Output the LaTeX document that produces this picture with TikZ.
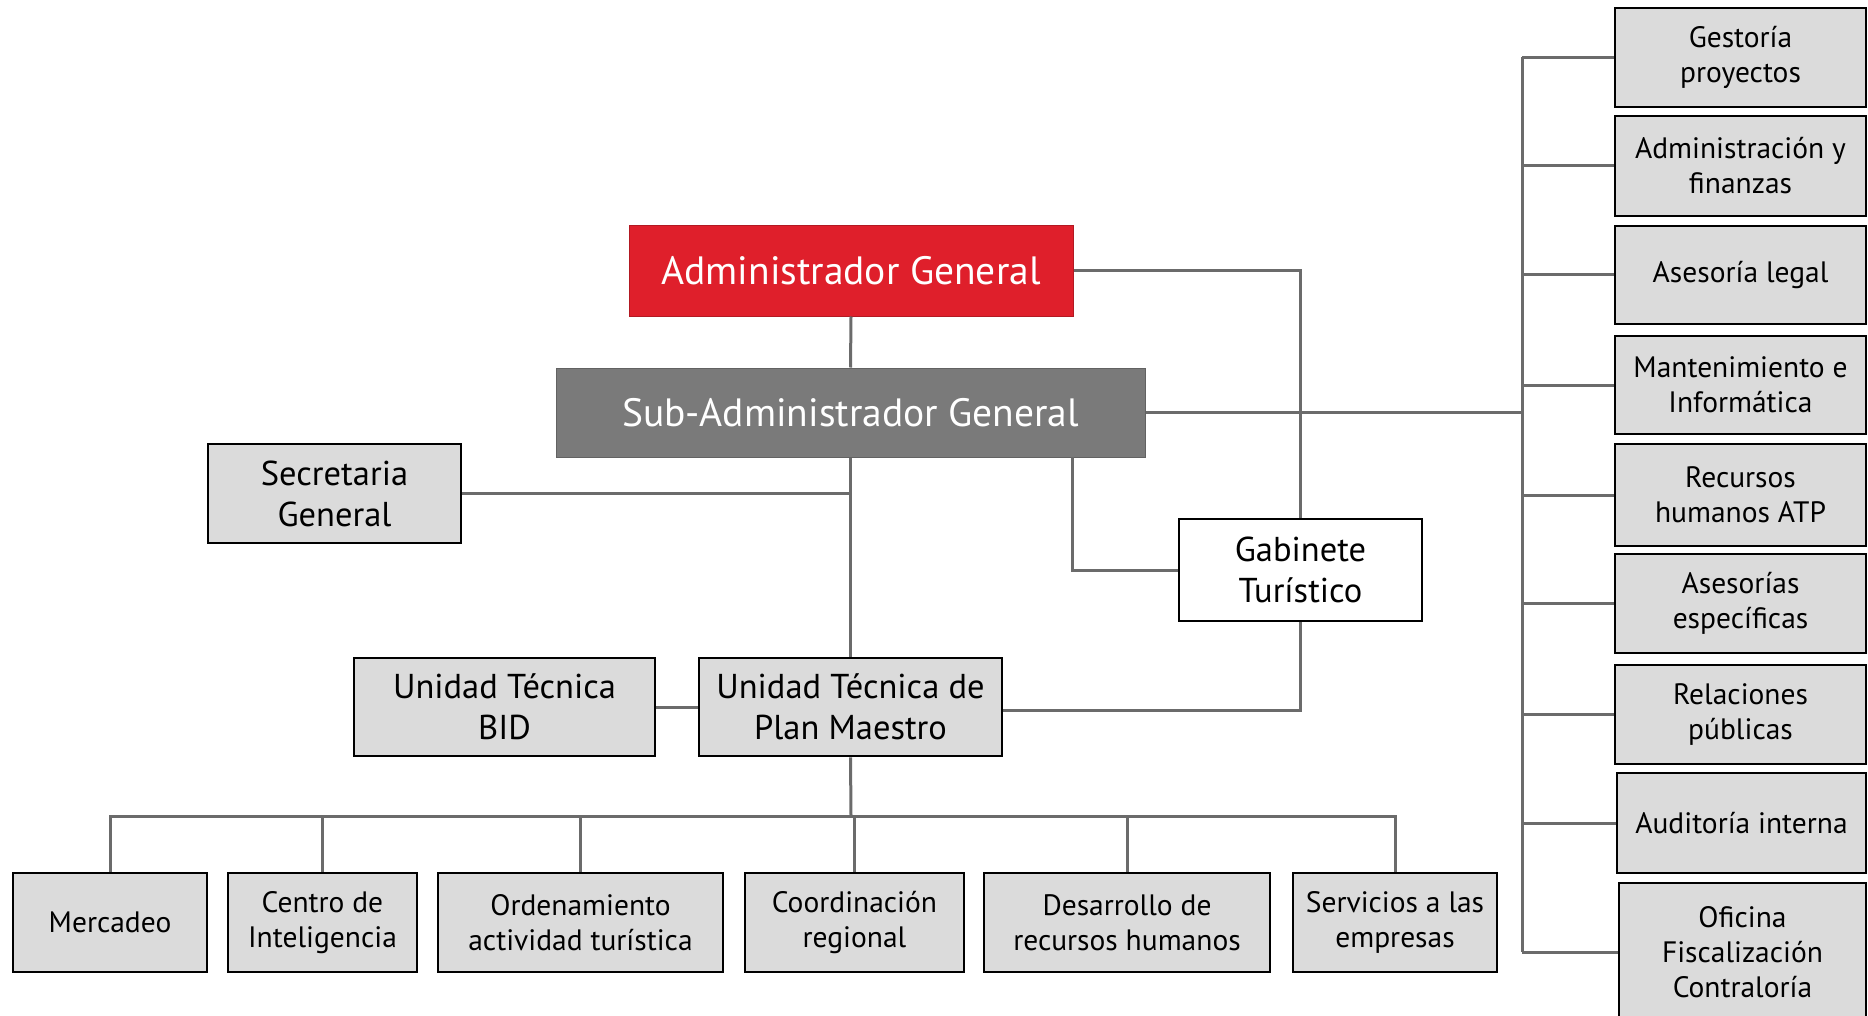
\documentclass[tikz,border=0pt]{standalone}
\usepackage{fontspec}
\setmainfont{PT Sans}
\usepackage{xcolor}
\definecolor{admred}{HTML}{DF1F2B}
\definecolor{subgray}{HTML}{7A7A7A}
\definecolor{boxgray}{HTML}{DBDBDB}
\definecolor{linegray}{HTML}{6B6B6B}

\begin{document}
\begin{tikzpicture}[
    x=1pt, y=-1pt,
    box/.style={draw=black, fill=boxgray, line width=2.6pt, align=center,
        inner sep=0pt, minimum height=#1, font=\fontsize{29.5}{35}\selectfont},
    box/.default=98pt,
    wd/.style={minimum width=#1},
    mid/.style={font=\fontsize{34.5}{41}\selectfont},
    conn/.style={draw=linegray, line width=3pt}
]
    \useasboundingbox (0,0) rectangle (1868,1016);

    % Top of the chart
    \node[box=90pt, wd=444pt, fill=admred, draw=admred!80!black, line width=1pt,
        text=white, font=\fontsize{39.5}{44}\selectfont] (admin) at (851,271) {Administrador General};
    \node[box=89pt, wd=589pt, fill=subgray, draw=subgray!80!black, line width=1pt,
        text=white, font=\fontsize{39.5}{44}\selectfont] (subadmin) at (850.5,412.5) {Sub-Administrador General};

    % Middle level
    \node[box=99pt, wd=253pt, mid] (secre) at (334.5,493.5) {Secretaria\\General};
    \node[box=102pt, wd=243pt, fill=white, mid] (gab) at (1300.5,570) {Gabinete\\Turístico};
    \node[box, wd=301pt, mid] (bid) at (504.5,707) {Unidad Técnica\\BID};
    \node[box, wd=303pt, mid] (plan) at (850.5,707) {Unidad Técnica de\\Plan Maestro};

    % Bottom row
    \node[box=99pt, wd=194pt] (merc) at (110,922.5) {Mercadeo};
    \node[box=99pt, wd=189pt] (centro) at (322.5,922.5) {Centro de\\Inteligencia};
    \node[box=99pt, wd=285pt] (orden) at (580.5,922.5) {Ordenamiento\\actividad turística};
    \node[box=99pt, wd=219pt] (coord) at (854.5,922.5) {Coordinación\\regional};
    \node[box=99pt, wd=286pt] (desa) at (1127,922.5) {Desarrollo de\\recursos humanos};
    \node[box=99pt, wd=204pt] (serv) at (1395,922.5) {Servicios a las\\empresas};

    % Right column
    \node[box=99pt, wd=251pt] (gest) at (1740.5,57.5) {Gestoría\\proyectos};
    \node[box=100pt, wd=251pt] (finan) at (1740.5,166) {Administración y\\finanzas};
    \node[box, wd=251pt] (legal) at (1740.5,275) {Asesoría legal};
    \node[box, wd=251pt] (mant) at (1740.5,385) {Mantenimiento e\\Informática};
    \node[box=102pt, wd=251pt] (rrhh) at (1740.5,495) {Recursos\\humanos ATP};
    \node[box=99pt, wd=251pt] (espec) at (1740.5,603.5) {Asesorías\\específicas};
    \node[box=99pt, wd=251pt] (relac) at (1740.5,714.5) {Relaciones\\públicas};
    \node[box=100pt, wd=249pt] (audit) at (1741.5,823) {Auditoría interna};
    \node[box=138pt, wd=247pt] (ofic) at (1742.5,952) {Oficina\\Fiscalización\\Contraloría};

    % Coordinates
    \coordinate (sub_tap) at (1072,457);
    \coordinate (bus) at (851,816);
    \coordinate (rbus_top) at (1522,57.5);
    \coordinate (rbus_bot) at (1522,952);

    % Main trunk
    \draw[conn] (admin.south) -- (subadmin.north);
    \draw[conn] (subadmin.south) -- (plan.north);
    \draw[conn] (secre.east) -- (secre.east -| plan.north);
    \draw[conn] (bid.east) -- (plan.west);

    % Gabinete branches
    \draw[conn] (admin.east) -| (gab.north);
    \draw[conn] (sub_tap) |- (gab.west);
    \draw[conn] (gab.south) |- ([yshift=-3pt]plan.east);

    % Bottom bus
    \draw[conn] (plan.south) -- (bus);
    \foreach \n in {merc, centro, orden, coord, desa, serv}
        \draw[conn] (\n.north) |- (bus);

    % Right bus
    \draw[conn] (subadmin.east) -- (subadmin.east -| rbus_top);
    \draw[conn] (rbus_top) -- (rbus_bot);
    \foreach \n in {gest, finan, legal, mant, rrhh, espec, relac, audit, ofic}
        \draw[conn] (\n.west -| rbus_top) -- (\n.west);

\end{tikzpicture}
\end{document}
